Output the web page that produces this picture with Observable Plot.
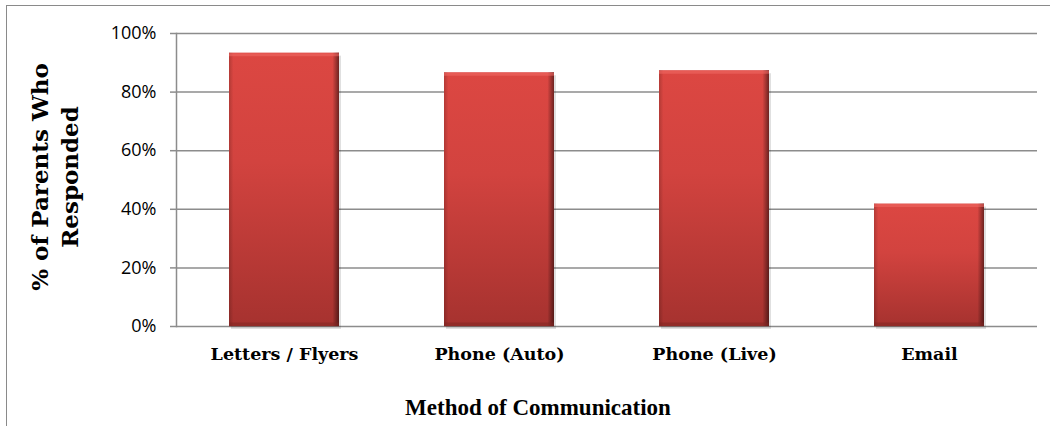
<!DOCTYPE html>
<html><head><meta charset="utf-8">
<script src="https://cdn.jsdelivr.net/npm/d3@7"></script>
<script src="https://cdn.jsdelivr.net/npm/@observablehq/plot@0.6"></script>
<style>
html,body{margin:0;padding:0;background:#fff;overflow:hidden;width:1050px;height:426px}
#chart{position:relative;width:1050px;height:426px}
#chart svg{position:absolute;left:0;top:0}
#frame{position:absolute;left:6px;top:5px;width:1100px;height:500px;border-top:1.5px solid #8a8a8a;border-left:1.5px solid #8a8a8a;pointer-events:none}
</style></head><body>
<div id="chart"><div id="frame"></div></div>
<script>
const categories = ["Letters / Flyers", "Phone (Auto)", "Phone (Live)", "Email"];
const values = [93.3, 86.6, 87.3, 41.8];
const yTicks = [0, 20, 40, 60, 80, 100];
const xTitle = "Method of Communication";
const yTitle = "% of Parents Who\nResponded";

const data = categories.map((c, i) => ({method: c, pct: values[i]}));

const defs = () => {
  const d = d3.create("svg:defs");
  const v = d.append("linearGradient").attr("id", "barFill")
    .attr("x1", 0).attr("y1", 0).attr("x2", 0).attr("y2", 1);
  [["0%", "#dc4742"], ["40%", "#d2433f"], ["100%", "#a6322f"]]
    .forEach(([o, c]) => v.append("stop").attr("offset", o).attr("stop-color", c));
  const h = d.append("linearGradient").attr("id", "barSide")
    .attr("x1", 0).attr("y1", 0).attr("x2", 1).attr("y2", 0);
  [["0%", 0.18], ["4%", 0], ["94%", 0], ["100%", 0.5]]
    .forEach(([o, a]) => h.append("stop").attr("offset", o).attr("stop-color", "#000").attr("stop-opacity", a));
  return d.node();
};

const chart = Plot.plot({
  width: 1050,
  height: 426,
  marginLeft: 176,
  marginRight: 13,
  marginTop: 33,
  marginBottom: 100,
  style: {background: "transparent", color: "#000"},
  x: {domain: categories, paddingInner: 0.49, paddingOuter: 0.245, label: null},
  y: {domain: [0, 100], label: null},
  marks: [
    defs,
    Plot.ruleY(yTicks, {stroke: "#8c8c8c", strokeWidth: 1.5}),
    Plot.frame({anchor: "left", stroke: "#8c8c8c", strokeWidth: 1.5}),
    Plot.axisY({ticks: yTicks, tickSize: 6, tickPadding: 14, tickFormat: d => d + "%",
      stroke: "#8c8c8c", strokeWidth: 1.5, fill: "#000", fontSize: 18,
      fontFamily: "'Open Sans'", label: null}),
    Plot.axisX({tickSize: 0, tickPadding: 21, fontSize: 17.5, fontFamily: "'DejaVu Serif'",
      fontWeight: "bold", fill: "#000", label: null}),
    Plot.barY(data, {x: "method", y: "pct", fill: "#000", fillOpacity: 0.12, dx: 2, dy: 3}),
    Plot.barY(data, {x: "method", y: "pct", fill: "url(#barFill)"}),
    Plot.barY(data, {x: "method", y: "pct", fill: "url(#barSide)"}),
    Plot.tickY(data, {x: "method", y: "pct", stroke: "#f06b66", strokeWidth: 3, strokeOpacity: 0.55, dy: 1.5}),
    Plot.tickY(data, {x: "method", y: () => 0, stroke: "#7d2522", strokeWidth: 4, strokeOpacity: 0.5, dy: -2}),
    Plot.text([yTitle], {text: d => d, frameAnchor: "left", dx: -123, dy: -3, rotate: -90,
      textAnchor: "middle", lineAnchor: "middle", lineHeight: 1.3, fontSize: 23,
      fontFamily: "'DejaVu Serif'", fontWeight: "bold", fill: "#000"}),
    Plot.text([xTitle], {text: d => d, frameAnchor: "bottom", dx: -69, dy: 81,
      textAnchor: "middle", lineAnchor: "middle", fontSize: 23,
      fontFamily: "'Liberation Serif'", fontWeight: "bold", fill: "#000"})
  ]
});
document.getElementById("chart").prepend(chart);
</script>
</body></html>
